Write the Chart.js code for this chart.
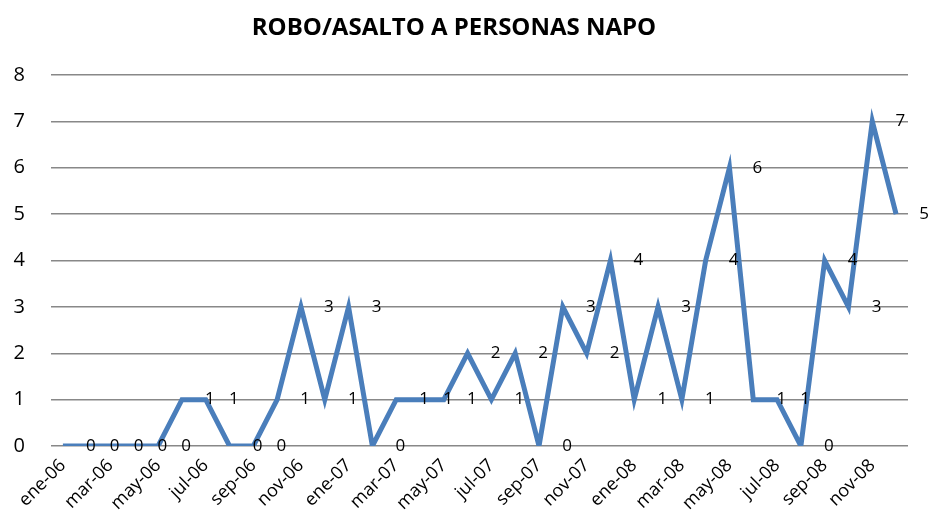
<!DOCTYPE html>
<html>
<head>
<meta charset="utf-8">
<script src="https://cdn.jsdelivr.net/npm/chart.js@4.4.1/dist/chart.umd.min.js"></script>
<style>
  html, body { margin: 0; padding: 0; background: #fff; }
  #chart { display: block; }
</style>
</head>
<body>
<canvas id="chart" width="932" height="526"></canvas>
<script>
const months = [
    'ene-06', 'feb-06', 'mar-06', 'abr-06', 'may-06', 'jun-06', 'jul-06', 'ago-06', 'sep-06', 'oct-06', 'nov-06', 'dic-06',
    'ene-07', 'feb-07', 'mar-07', 'abr-07', 'may-07', 'jun-07', 'jul-07', 'ago-07', 'sep-07', 'oct-07', 'nov-07', 'dic-07',
    'ene-08', 'feb-08', 'mar-08', 'abr-08', 'may-08', 'jun-08', 'jul-08', 'ago-08', 'sep-08', 'oct-08', 'nov-08', 'dic-08'
];
const robos = [
    0, 0, 0, 0, 0, 1, 1, 0, 0, 1, 3, 1,
    3, 0, 1, 1, 1, 2, 1, 2, 0, 3, 2, 4,
    1, 3, 1, 4, 6, 1, 1, 0, 4, 3, 7, 5
];
const yTicks = [0, 1, 2, 3, 4, 5, 6, 7, 8];

const fontFamily = '"Open Sans", "Liberation Sans", sans-serif';

// draws the value next to every point, like the excel labels
const valueLabels = {
    id: 'valueLabels',
    afterDatasetsDraw(chart) {
        const ctx = chart.ctx;
        const meta = chart.getDatasetMeta(0);
        ctx.save();
        ctx.font = '17px ' + fontFamily;
        ctx.fillStyle = '#000';
        ctx.textAlign = 'center';
        ctx.textBaseline = 'middle';
        meta.data.forEach((pt, i) => {
            ctx.fillText(String(robos[i]), pt.x + 28, pt.y);
        });
        ctx.restore();
    }
};

const ctx = document.getElementById('chart').getContext('2d');

const chart = new Chart(ctx, {
    type: 'line',
    data: {
        labels: months,
        datasets: [{
            label: 'Robo/asalto a personas',
            data: robos,
            borderColor: '#4a7ebb',
            borderWidth: 5,
            pointRadius: 0,
            tension: 0,
            fill: false,
            borderJoinStyle: 'miter'
        }]
    },
    options: {
        responsive: false,
        animation: false,
        layout: {
            padding: { left: 0, right: 24, top: 0, bottom: 0 }
        },
        plugins: {
            legend: { display: false },
            tooltip: { enabled: false },
            title: {
                display: true,
                text: 'ROBO/ASALTO A PERSONAS NAPO',
                color: '#000',
                font: { family: fontFamily, size: 24, weight: 'bold', lineHeight: 1.2 },
                padding: { top: 14, bottom: 32.2 }
            }
        },
        scales: {
            x: {
                offset: true,
                grid: { display: false, drawTicks: false },
                border: { display: false },
                ticks: {
                    autoSkip: false,
                    maxRotation: 45,
                    minRotation: 45,
                    padding: 9,
                    color: '#000',
                    font: { family: fontFamily, size: 18 },
                    callback: function (value, index) {
                        return index % 2 === 0 ? months[index] : '';
                    }
                },
                afterFit: function (scale) { scale.height = 80; }
            },
            y: {
                min: 0,
                max: 8,
                grid: { color: '#888888', lineWidth: 1.5, drawTicks: false },
                border: { display: false },
                afterBuildTicks: function (scale) {
                    scale.ticks = yTicks.map(v => ({ value: v }));
                },
                ticks: {
                    padding: 26,
                    color: '#000',
                    font: { family: fontFamily, size: 20 }
                },
                afterFit: function (scale) { scale.width = 51; }
            }
        }
    },
    plugins: [valueLabels]
});
</script>
</body>
</html>
